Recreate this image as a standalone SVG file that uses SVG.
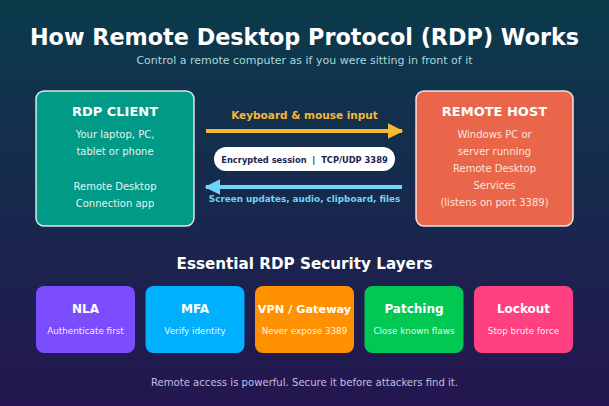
<svg xmlns="http://www.w3.org/2000/svg" width="609" height="406" viewBox="0 0 609 406">
  <defs>
    <linearGradient id="bg" x1="0" y1="0" x2="0" y2="1">
      <stop offset="0" stop-color="#0b3b4b"/>
      <stop offset="1" stop-color="#241650"/>
    </linearGradient>
    <marker id="hY" viewBox="0 0 10 10" refX="9" refY="5" markerWidth="4" markerHeight="4.4" orient="auto" markerUnits="strokeWidth">
      <path d="M0,0 L10,5 L0,10 z" fill="#f7b733"/>
    </marker>
    <marker id="hC" viewBox="0 0 10 10" refX="9" refY="5" markerWidth="4" markerHeight="4.4" orient="auto" markerUnits="strokeWidth">
      <path d="M0,0 L10,5 L0,10 z" fill="#6dd5f7"/>
    </marker>
    <style>
      text { font-family: "DejaVu Sans", "Liberation Sans", sans-serif; text-anchor: middle; }
      .main { stroke: #ffffff; stroke-opacity: 0.85; stroke-width: 1.5; }
      .head { font-size: 13px; font-weight: bold; fill: #ffffff; }
      .cbody { font-size: 10px; fill: #e0f5f1; }
      .hbody { font-size: 10px; fill: #fde3dc; }
      .layer { stroke: none; }
      .lt { font-size: 12px; font-weight: bold; fill: #ffffff; }
      .ls { font-size: 8.8px; fill: #ffffff; fill-opacity: 0.92; }
    </style>
  </defs>
  <rect x="0" y="0" width="609" height="406" fill="url(#bg)"/>

  <text x="304.5" y="45" style="font-size:22.3px;font-weight:bold;fill:#ffffff">How Remote Desktop Protocol (RDP) Works</text>
  <text x="304.5" y="64" style="font-size:11px;fill:#a9d8dc">Control a remote computer as if you were sitting in front of it</text>

  <g id="client">
    <rect class="main" x="36" y="91" width="158" height="135" rx="8" fill="#009a86"/>
    <text class="head" x="115" y="116">RDP CLIENT</text>
    <text class="cbody" x="115" y="138">Your laptop, PC,</text>
    <text class="cbody" x="115" y="155">tablet or phone</text>
    <text class="cbody" x="115" y="190">Remote Desktop</text>
    <text class="cbody" x="115" y="207">Connection app</text>
  </g>

  <g id="host">
    <rect class="main" x="416" y="91" width="157" height="135" rx="8" fill="#e9664b"/>
    <text class="head" x="494.5" y="116">REMOTE HOST</text>
    <text class="hbody" x="494.5" y="138">Windows PC or</text>
    <text class="hbody" x="494.5" y="155">server running</text>
    <text class="hbody" x="494.5" y="172">Remote Desktop</text>
    <text class="hbody" x="494.5" y="189">Services</text>
    <text class="hbody" x="494.5" y="206">(listens on port 3389)</text>
  </g>

  <g id="connectors">
    <line x1="206" y1="131" x2="402" y2="131" stroke="#f7b733" stroke-width="4" marker-end="url(#hY)"/>
    <text x="304.5" y="119" style="font-size:10.5px;font-weight:bold;fill:#f7b733">Keyboard &amp; mouse input</text>
    <line x1="402" y1="187" x2="206" y2="187" stroke="#6dd5f7" stroke-width="4" marker-end="url(#hC)"/>
    <text x="304.5" y="202" style="font-size:8.8px;font-weight:bold;fill:#6dd5f7">Screen updates, audio, clipboard, files</text>
  </g>

  <g id="session">
    <rect x="214" y="147" width="181" height="24" rx="12" fill="#ffffff"/>
    <text x="304.5" y="162.5" style="font-size:8.3px;font-weight:bold;fill:#1e2350" xml:space="preserve">Encrypted session  |  TCP/UDP 3389</text>
  </g>

  <text x="304.5" y="269" style="font-size:15.2px;font-weight:bold;fill:#ffffff">Essential RDP Security Layers</text>

  <g id="nla">
    <rect class="layer" x="36" y="286" width="99" height="67" rx="8" fill="#7c4dff"/>
    <text class="lt" x="85.5" y="313">NLA</text>
    <text class="ls" x="85.5" y="334">Authenticate first</text>
  </g>
  <g id="mfa">
    <rect class="layer" x="145.5" y="286" width="99" height="67" rx="8" fill="#00b0ff"/>
    <text class="lt" x="195" y="313">MFA</text>
    <text class="ls" x="195" y="334">Verify identity</text>
  </g>
  <g id="vpn">
    <rect class="layer" x="255" y="286" width="99" height="67" rx="8" fill="#ff9100"/>
    <text class="lt" x="304.5" y="313" style="font-size:11.3px">VPN / Gateway</text>
    <text class="ls" x="304.5" y="334">Never expose 3389</text>
  </g>
  <g id="patching">
    <rect class="layer" x="364.5" y="286" width="99" height="67" rx="8" fill="#00c853"/>
    <text class="lt" x="414" y="313">Patching</text>
    <text class="ls" x="414" y="334">Close known flaws</text>
  </g>
  <g id="lockout">
    <rect class="layer" x="474" y="286" width="99" height="67" rx="8" fill="#ff4081"/>
    <text class="lt" x="523.5" y="313">Lockout</text>
    <text class="ls" x="523.5" y="334">Stop brute force</text>
  </g>

  <text x="304.5" y="386" style="font-size:10.1px;fill:#c3bfe0">Remote access is powerful. Secure it before attackers find it.</text>
</svg>
